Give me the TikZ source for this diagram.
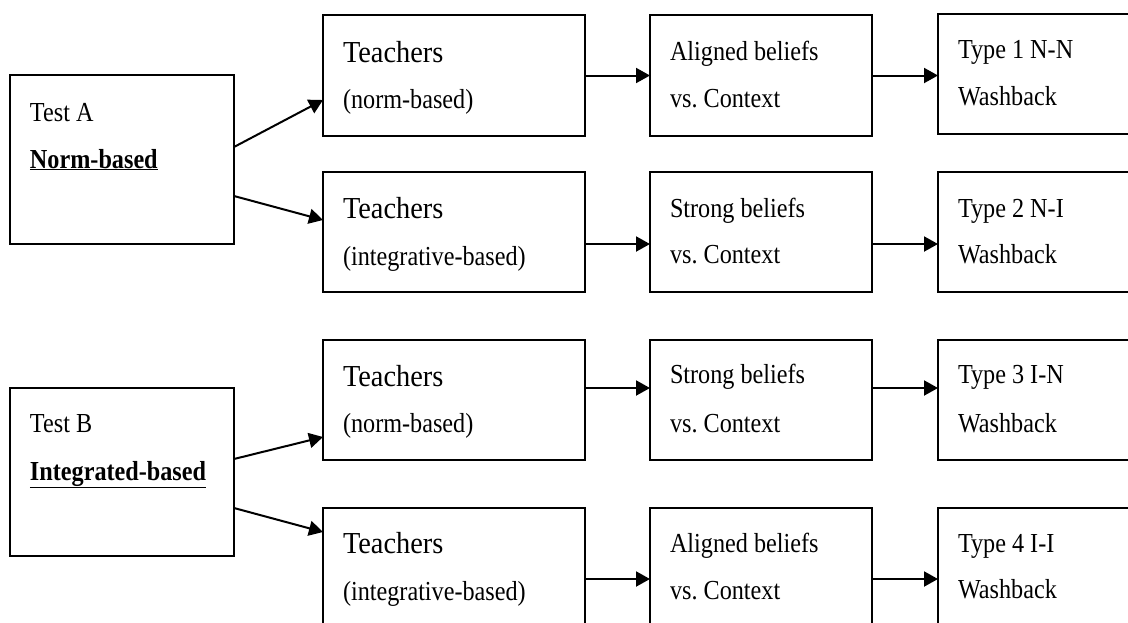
\documentclass[tikz,border=0pt]{standalone}
\usepackage{fontspec}
\setmainfont{Liberation Serif}
\usetikzlibrary{arrows.meta}
\frenchspacing
\newcommand{\thickul}[1]{\underline{#1}}
\tikzset{
  box/.style={draw, line width=2pt, rectangle, inner sep=0pt, outer sep=0pt},
  lbl/.style={anchor=base west, inner sep=0pt, outer sep=0pt, xscale=0.88, transform shape, font=\fontsize{27.5}{32}\selectfont\frenchspacing},
  big/.style={anchor=base west, inner sep=0pt, outer sep=0pt, xscale=0.93, transform shape, font=\fontsize{30.5}{34}\selectfont},
  conn/.style={line width=2pt, -{Triangle[length=14pt,width=15pt]}}
}
\begin{document}
\begin{tikzpicture}[x=1pt,y=-1pt]
\clip (0,0) rectangle (1128,622);
\fill[white] (0,0) rectangle (1128,622);
% left boxes
\node[box, minimum width=224.5pt, minimum height=169pt] (tA) at (121.75,159.5) {};
\node[box, minimum width=224.5pt, minimum height=168pt] (tB) at (121.75,472) {};
% teachers boxes
\node[box, minimum width=262pt, minimum height=121pt] (t1) at (454,75.5) {};
\node[box, minimum width=262pt, minimum height=120pt] (t2) at (454,232) {};
\node[box, minimum width=262pt, minimum height=120pt] (t3) at (454,400) {};
\node[box, minimum width=262pt, minimum height=120pt] (t4) at (454,568) {};
% beliefs boxes
\node[box, minimum width=222pt, minimum height=121pt] (b1) at (761,75.5) {};
\node[box, minimum width=222pt, minimum height=120pt] (b2) at (761,232) {};
\node[box, minimum width=222pt, minimum height=120pt] (b3) at (761,400) {};
\node[box, minimum width=222pt, minimum height=120pt] (b4) at (761,568) {};
% type boxes
\node[box, minimum width=202pt, minimum height=120pt] (w1) at (1039,74) {};
\node[box, minimum width=202pt, minimum height=120pt] (w2) at (1039,232) {};
\node[box, minimum width=202pt, minimum height=120pt] (w3) at (1039,400) {};
\node[box, minimum width=202pt, minimum height=120pt] (w4) at (1039,568) {};
% texts
\node[lbl] (tAa) at (30,121) {Test A};
\node[lbl] (tAb) at (30,168) {\textbf{\thickul{Norm-based}}};
\node[lbl] (tBa) at (30,432) {Test B};
\node[lbl] (tBb) at (30,480) {\textbf{\thickul{Integrated-based}}};
\node[big] (t1a) at (343,62) {Teachers};
\node[lbl] (t1b) at (343,108) {(norm-based)};
\node[big] (t2a) at (343,218) {Teachers};
\node[lbl] (t2b) at (343,265) {(integrative-based)};
\node[big] (t3a) at (343,386) {Teachers};
\node[lbl] (t3b) at (343,432) {(norm-based)};
\node[big] (t4a) at (343,553) {Teachers};
\node[lbl] (t4b) at (343,600) {(integrative-based)};
\node[lbl] (b1a) at (670,60) {Aligned beliefs};
\node[lbl] (b1b) at (670,107) {vs. Context};
\node[lbl] (b2a) at (670,217) {Strong beliefs};
\node[lbl] (b2b) at (670,263) {vs. Context};
\node[lbl] (b3a) at (670,383) {Strong beliefs};
\node[lbl] (b3b) at (670,432) {vs. Context};
\node[lbl] (b4a) at (670,552) {Aligned beliefs};
\node[lbl] (b4b) at (670,599) {vs. Context};
\node[lbl] (w1a) at (958,58) {Type 1 N-N};
\node[lbl] (w1b) at (958,105) {Washback};
\node[lbl] (w2a) at (958,217) {Type 2 N-I};
\node[lbl] (w2b) at (958,263) {Washback};
\node[lbl] (w3a) at (958,383) {Type 3 I-N};
\node[lbl] (w3b) at (958,432) {Washback};
\node[lbl] (w4a) at (958,552) {Type 4 I-I};
\node[lbl] (w4b) at (958,598) {Washback};
% connectors
\draw[conn] ([yshift=12.5pt]tA.east) -- ([yshift=-24.5pt]t1.west);
\draw[conn] ([yshift=-36.5pt]tA.east) -- ([yshift=12pt]t2.west);
\draw[conn] ([yshift=13pt]tB.east) -- ([yshift=-37pt]t3.west);
\draw[conn] ([yshift=-36pt]tB.east) -- ([yshift=36pt]t4.west);
\draw[conn] (t1.east) -- (b1.west);
\draw[conn] ([yshift=-12pt]t2.east) -- ([yshift=-12pt]b2.west);
\draw[conn] ([yshift=12pt]t3.east) -- ([yshift=12pt]b3.west);
\draw[conn] ([yshift=-11pt]t4.east) -- ([yshift=-11pt]b4.west);
\draw[conn] (b1.east) -- ([yshift=-1.5pt]w1.west);
\draw[conn] ([yshift=-12pt]b2.east) -- ([yshift=-12pt]w2.west);
\draw[conn] ([yshift=12pt]b3.east) -- ([yshift=12pt]w3.west);
\draw[conn] ([yshift=-11pt]b4.east) -- ([yshift=-11pt]w4.west);
\end{tikzpicture}
\end{document}
